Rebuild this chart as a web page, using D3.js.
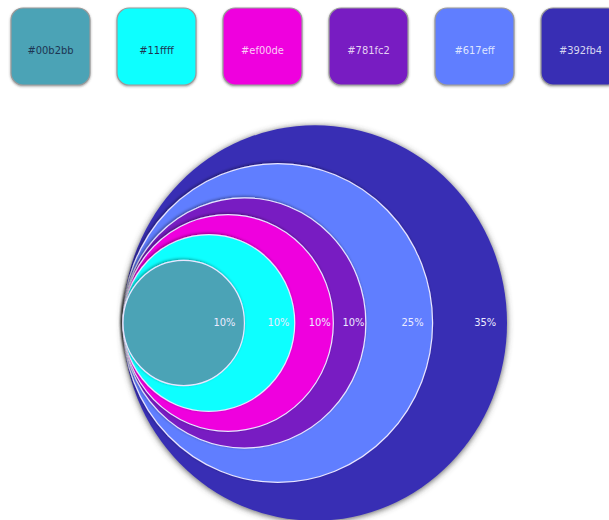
<!DOCTYPE html>
<html>
<head>
<meta charset="utf-8">
<script src="https://cdn.jsdelivr.net/npm/d3@7"></script>
<style>
  body { margin: 0; background: #fff; }
  svg { display: block; }
</style>
</head>
<body>
<svg id="chart" width="609" height="520"></svg>
<script>
// swatch labels + the colours they are drawn in (first one renders duller than its label)
const swatchNames = ["#00b2bb", "#11ffff", "#ef00de", "#781fc2", "#617eff", "#392fb4"];
const swatchFills = ["#4ba3b6", "#11ffff", "#ef00de", "#781fc2", "#617eff", "#392fb4"];
// share of each ring, inner to outer
const shares = [10, 10, 10, 10, 25, 35];
const shareLabels = ["10%", "10%", "10%", "10%", "25%", "35%"];

const W = 609, H = 520;
const svg = d3.select("#chart");

// shadows
const defs = svg.append("defs");
defs.append("filter").attr("id", "outerShadow")
  .attr("x", "-10%").attr("y", "-10%").attr("width", "120%").attr("height", "120%")
  .append("feDropShadow")
  .attr("dx", 0).attr("dy", 1).attr("stdDeviation", 3)
  .attr("flood-color", "#444").attr("flood-opacity", 0.9);
defs.append("filter").attr("id", "ringShadow")
  .attr("x", "-10%").attr("y", "-10%").attr("width", "120%").attr("height", "120%")
  .append("feDropShadow")
  .attr("dx", -1).attr("dy", -1).attr("stdDeviation", 1.5)
  .attr("flood-color", "#000").attr("flood-opacity", 0.4);
defs.append("filter").attr("id", "swShadow")
  .append("feDropShadow")
  .attr("dx", 0).attr("dy", 1).attr("stdDeviation", 1)
  .attr("flood-color", "#444").attr("flood-opacity", 0.5);

// ---- swatches along the top (step 106, 79 wide; the last one runs off the edge)
const sx = d3.scaleBand().domain(d3.range(swatchNames.length))
  .range([11, 11 + 6 * 106 - 27]).paddingInner(27 / 106);
const sw = svg.append("g");
const cell = sw.selectAll("g").data(swatchNames).enter().append("g")
  .attr("transform", (d, i) => "translate(" + sx(i) + ",8)");
cell.append("rect")
  .attr("width", sx.bandwidth()).attr("height", 77)
  .attr("rx", 12)
  .attr("fill", (d, i) => swatchFills[i])
  .attr("stroke", "#9a9a9a").attr("stroke-width", 1.2)
  .attr("filter", "url(#swShadow)");
cell.append("text")
  .attr("x", sx.bandwidth() / 2).attr("y", 43)
  .attr("text-anchor", "middle").attr("dominant-baseline", "middle")
  .attr("font-family", "'Liberation Sans Narrow', 'DejaVu Sans Condensed', sans-serif")
  .attr("font-size", 11)
  .attr("fill", (d, i) => d3.lab(swatchFills[i]).l > 60 ? "#1d3552" : d3.interpolateRgb(swatchFills[i], "#fff")(0.8))
  .text(d => d);

// ---- nested circles, all touching on the left
const cum = d3.cumsum(shares);
const rScale = d3.scaleSqrt().domain([0, d3.sum(shares)]).range([0, 192]);
const leftX = 123, cy = 323, squash = 1.03;

const rings = shares.map((s, i) => ({
  i: i,
  r: rScale(cum[i]),
  prev: i > 0 ? rScale(cum[i - 1]) : null,
  color: swatchFills[i],
  label: shareLabels[i]
}));

const g = svg.append("g");
g.selectAll("ellipse").data(rings.slice().reverse()).enter().append("ellipse")
  .attr("cx", d => leftX + d.r)
  .attr("cy", cy)
  .attr("rx", d => d.r)
  .attr("ry", d => d.r * squash)
  .attr("fill", d => d.color)
  .attr("stroke", d => d.i === shares.length - 1 ? "none" : "#e9e6ff")
  .attr("stroke-width", 1.2)
  .attr("filter", d => d.i === shares.length - 1 ? "url(#outerShadow)" : "url(#ringShadow)");

// label sits a little inside the right edge of each ring
g.selectAll("text").data(rings).enter().append("text")
  .attr("x", d => d.prev === null ? leftX + 2 * d.r - 20 : leftX + 2 * d.r - (d.r - d.prev) * 0.45 - 5)
  .attr("y", cy)
  .attr("text-anchor", "middle").attr("dominant-baseline", "middle")
  .attr("font-family", "'Liberation Sans Narrow', 'DejaVu Sans Condensed', sans-serif")
  .attr("font-size", 11)
  .attr("fill", "#ecebff")
  .text(d => d.label);
</script>
</body>
</html>
